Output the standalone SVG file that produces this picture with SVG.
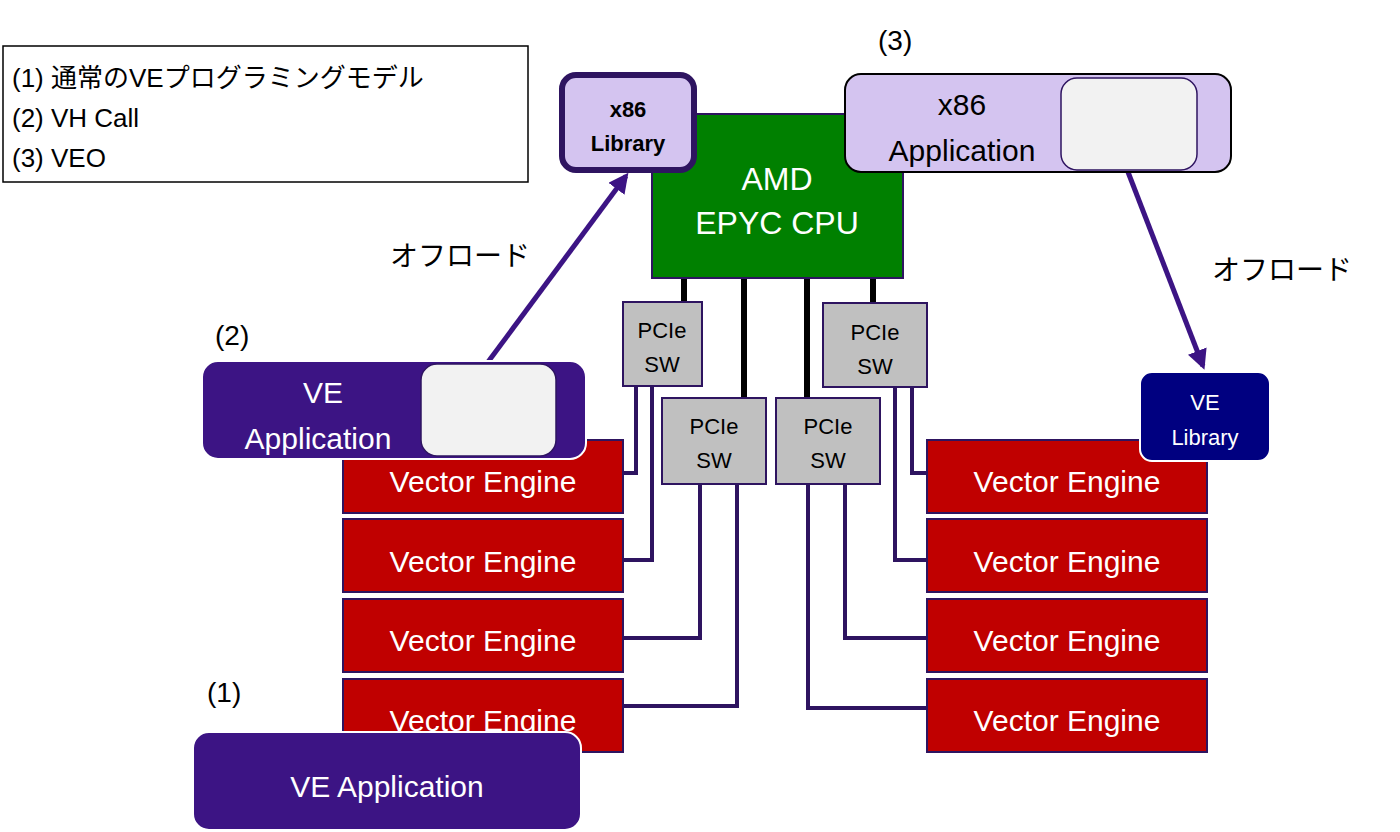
<svg xmlns="http://www.w3.org/2000/svg" width="1400" height="832" viewBox="0 0 1400 832">
<style>
text{font-family:"Liberation Sans","Noto Sans CJK JP",sans-serif}
.ve rect{fill:#c00000;stroke:#2e1460;stroke-width:2}
.ve text{fill:#fff;font-size:30px;text-anchor:middle}
.sw rect{fill:#c0c0c0;stroke:#2e1460;stroke-width:2}
.sw text{fill:#000;font-size:22px;text-anchor:middle}
.w{fill:#fff;text-anchor:middle}
.k{fill:#000}
.c{fill:none;stroke:#2e1460;stroke-width:4}
.b{fill:none;stroke:#000;stroke-width:6}
</style>
<defs><marker id="ah" viewBox="0 0 10 10" refX="8" refY="5" markerWidth="4" markerHeight="4" orient="auto"><path d="M0,0L10,5L0,10z" fill="#3c1484"/></marker></defs>
<g id="legend"><rect x="3" y="46" width="525" height="136" fill="#fff" stroke="#000" stroke-width="1.5"/>
<text x="12" y="87" font-size="26" class="k">(1) 通常のVEプログラミングモデル</text>
<text x="12" y="127" font-size="26" class="k">(2) VH Call</text>
<text x="12" y="167" font-size="26" class="k">(3) VEO</text></g>
<g id="labels" class="k" font-size="28">
<text x="878" y="50">(3)</text><text x="215" y="345">(2)</text><text x="207" y="702">(1)</text>
<text x="390" y="266">オフロード</text><text x="1212" y="280">オフロード</text></g>
<g id="connectors">
<path class="b" d="M684,278V302M744,278V398M807,278V398M873,278V303"/>
<path class="c" d="M636,386V473H623M652,386V560H623M700,484V638H623M737,484V706H623M808,484V708H927M845,484V638H927M895,387V560H927M912,387V473H927"/>
<path d="M488,362L626,176" stroke="#3c1484" stroke-width="5" marker-end="url(#ah)"/>
<path d="M1128,172L1203,366" stroke="#3c1484" stroke-width="5" marker-end="url(#ah)"/>
</g>
<g id="cpu"><rect x="652" y="114" width="251" height="164" fill="#008000" stroke="#2e1460" stroke-width="2"/>
<text x="777" y="190" font-size="32" class="w">AMD</text><text x="777" y="234" font-size="32" class="w">EPYC CPU</text></g>
<g id="x86lib"><rect x="562" y="75" width="132" height="95" rx="14" fill="#d4c4f0" stroke="#2e1460" stroke-width="6"/>
<text x="628" y="117" font-size="22" font-weight="bold" text-anchor="middle">x86</text><text x="628" y="151" font-size="22" font-weight="bold" text-anchor="middle">Library</text></g>
<g id="x86app"><rect x="845" y="74" width="386" height="98" rx="16" fill="#d4c4f0" stroke="#000" stroke-width="2"/>
<rect x="1061" y="78" width="136" height="92" rx="16" fill="#f2f2f2" stroke="#2e1460" stroke-width="1.5"/>
<text x="962" y="115" font-size="30" text-anchor="middle">x86</text><text x="962" y="161" font-size="30" text-anchor="middle">Application</text></g>
<g class="sw">
<g id="sw1"><rect x="623" y="302" width="79" height="84"/><text x="662" y="338">PCIe</text><text x="662" y="372">SW</text></g>
<g id="sw2"><rect x="662" y="398" width="104" height="86"/><text x="714" y="434">PCIe</text><text x="714" y="468">SW</text></g>
<g id="sw3"><rect x="776" y="398" width="104" height="86"/><text x="828" y="434">PCIe</text><text x="828" y="468">SW</text></g>
<g id="sw4"><rect x="823" y="303" width="104" height="84"/><text x="875" y="340">PCIe</text><text x="875" y="374">SW</text></g>
</g>
<g class="ve">
<g id="ve1"><rect x="343" y="440" width="280" height="73"/><text x="483" y="492">Vector Engine</text></g>
<g id="ve2"><rect x="343" y="519" width="280" height="73"/><text x="483" y="572">Vector Engine</text></g>
<g id="ve3"><rect x="343" y="599" width="280" height="73"/><text x="483" y="651">Vector Engine</text></g>
<g id="ve4"><rect x="343" y="679" width="280" height="73"/><text x="483" y="731">Vector Engine</text></g>
<g id="ve5"><rect x="927" y="440" width="280" height="73"/><text x="1067" y="492">Vector Engine</text></g>
<g id="ve6"><rect x="927" y="519" width="280" height="73"/><text x="1067" y="572">Vector Engine</text></g>
<g id="ve7"><rect x="927" y="599" width="280" height="73"/><text x="1067" y="651">Vector Engine</text></g>
<g id="ve8"><rect x="927" y="679" width="280" height="73"/><text x="1067" y="731">Vector Engine</text></g>
</g>
<g id="veapp2"><rect x="202" y="361" width="384" height="98" rx="16" fill="#3c1484" stroke="#fff" stroke-width="2"/>
<rect x="421" y="364" width="135" height="92" rx="16" fill="#f2f2f2" stroke="#2e1460" stroke-width="1.5"/>
<text x="323" y="403" font-size="30" class="w">VE</text><text x="318" y="449" font-size="30" class="w">Application</text></g>
<g id="veapp1"><rect x="193" y="732" width="388" height="98" rx="16" fill="#3c1484" stroke="#fff" stroke-width="2"/>
<text x="387" y="797" font-size="30" class="w">VE Application</text></g>
<g id="velib"><rect x="1140" y="372" width="130" height="89" rx="12" fill="#000080" stroke="#fff" stroke-width="2"/>
<text x="1205" y="410" font-size="22" class="w">VE</text><text x="1205" y="445" font-size="22" class="w">Library</text></g>
</svg>
